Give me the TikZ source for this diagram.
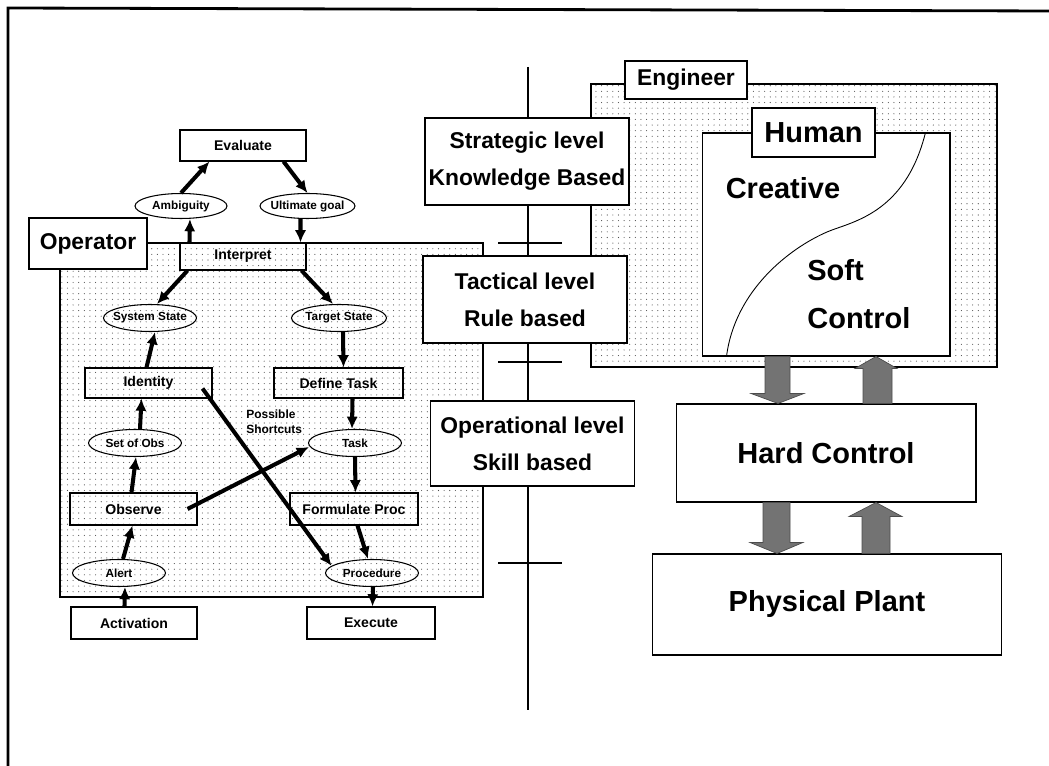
\documentclass[tikz,border=0pt]{standalone}
\usepackage{fontspec}
\setmainfont{Liberation Sans}
\usepackage{tikz}
\usetikzlibrary{calc,shapes,arrows.meta,patterns.meta,positioning}
\tikzset{
    flow/.style={draw,line width=2.3pt,-{Latex[length=7pt,width=6.5pt]}},
    procbox/.style={rectangle,draw,line width=0.6pt,inner sep=1pt,font=\fontsize{8}{9}\selectfont\bfseries},
    stateoval/.style={ellipse,draw,line width=0.6pt,minimum width=1.86cm,minimum height=0.54cm,inner sep=0pt,label={[ovaltext]center:#1}},
    ovaltext/.style={inner sep=0pt,font=\fontsize{6.7}{7}\selectfont\bfseries},
    notetext/.style={inner sep=0pt,align=left,font=\fontsize{6.8}{8.5}\selectfont\bfseries},
    levelbox/.style={rectangle,draw,fill=white,line width=0.6pt,inner sep=1pt,minimum width=4.08cm,minimum height=1.74cm,align=center,font=\fontsize{13}{21}\selectfont\bfseries},
    tagbox/.style={rectangle,draw,fill=white,line width=0.8pt,inner sep=1pt,font=\fontsize{13}{15}\selectfont\bfseries},
    bigbox/.style={rectangle,draw,fill=white,line width=0.6pt,font=\fontsize{16.5}{19}\selectfont\bfseries},
    bigtext/.style={inner sep=0pt,font=\fontsize{16.5}{19}\selectfont\bfseries},
    zone/.style={rectangle,draw,line width=1.4pt,pattern={Dots[distance=3.2pt,radius=0.32pt]},pattern color=black!70},
    blockarrow/.style={draw=black!70,line width=0.4pt,fill=black!55},
    levelaxis/.style={draw,line width=1.3pt},
    outerframe/.style={draw,line width=1.6pt},
}

\begin{document}
\begin{tikzpicture}[x=0.02cm,y=-0.02cm]
    \useasboundingbox (0,0) rectangle (1049,766);
    \path [outerframe] (8,766) -- (8,8) -- (1049,11);

    \node [zone,minimum width=8.46cm,minimum height=7.08cm] (operator) at (271.5,420) {};
    \node [zone,minimum width=8.12cm,minimum height=5.66cm] (engineer) at (794,225.5) {};

    \coordinate (axtop) at (528,67);
    \coordinate (axbot) at (528,710);
    \path [levelaxis] (axtop) -- (axbot);
    \foreach \y in {243,362,563}
        \path [levelaxis] (498,\y) -- (562,\y);

    \node [levelbox] (strategic) at (527,161.5) {Strategic level\\Knowledge Based};
    \node [levelbox] (tactical) at (525,299.5) {Tactical level\\Rule based};
    \node [levelbox,minimum height=1.7cm] (operational) at (532.5,443.5) {Operational level\\Skill based};

    \node [tagbox,minimum width=2.36cm,minimum height=1.02cm] (optag) at (88,243.5) {Operator};
    \node [tagbox,minimum width=2.44cm,minimum height=0.76cm] (engtag) at (686,80) {Engineer};

    \node [procbox,minimum width=2.52cm,minimum height=0.62cm] (evaluate) at (243,145.5) {Evaluate};
    \node [procbox,minimum width=2.52cm,minimum height=0.54cm] (interpret) at (243,256.5) {Interpret};
    \node [procbox,minimum width=2.54cm,minimum height=0.6cm] (identity) at (148.5,383) {Identity};
    \node [procbox,minimum width=2.58cm,minimum height=0.6cm] (definetask) at (338.5,383) {Define Task};
    \node [procbox,minimum width=2.54cm,minimum height=0.64cm] (observe) at (133.5,509) {Observe};
    \node [procbox,minimum width=2.56cm,minimum height=0.64cm] (formulate) at (354,509) {Formulate Proc};
    \node [procbox,minimum width=2.52cm,minimum height=0.64cm] (activation) at (134,623) {Activation};
    \node [procbox,minimum width=2.56cm,minimum height=0.64cm] (execute) at (371,623) {Execute};

    \node [stateoval=Ambiguity,minimum width=1.84cm,minimum height=0.5cm] (ambiguity) at (181,206) {};
    \node [stateoval=Ultimate goal,minimum width=1.9cm,minimum height=0.5cm] (goal) at (307.5,206) {};
    \node [stateoval=System State] (sysstate) at (150,318) {};
    \node [stateoval=Target State,minimum width=1.9cm] (target) at (339,318) {};
    \node [stateoval=Set of Obs] (obs) at (135,443) {};
    \node [stateoval=Task] (task) at (355,443) {};
    \node [stateoval=Alert] (alert) at (119,573) {};
    \node [stateoval=Procedure] (procedure) at (372,573) {};

    \path [flow] (ambiguity.north) -- ($(evaluate.south west)+(30,0)$);
    \path [flow] ($(evaluate.south east)+(-23,0)$) -- (goal.north);
    \path [flow] ($(interpret.north west)+(10,0)$) -- ($(ambiguity.south)+(9,0)$);
    \path [flow] ($(goal.south)+(-7,0)$) -- ($(interpret.north east)+(-6,0)$);
    \path [flow] ($(interpret.south west)+(8,0)$) -- ($(sysstate.north)+(7,0)$);
    \path [flow] ($(interpret.south east)+(-5,0)$) -- ($(target.north)+(-6,0)$);
    \path [flow] ($(identity.north west)+(62,0)$) -- ($(sysstate.south)+(5,0)$);
    \path [flow] ($(target.south)+(4,0)$) -- ($(definetask.north)+(5,0)$);
    \path [flow] ($(definetask.south)+(14,0)$) -- ($(task.north)+(-3,0)$);
    \path [flow] ($(obs.north)+(5,0)$) -- ($(identity.south west)+(57,0)$);
    \path [flow] ($(observe.north west)+(62,0)$) -- ($(obs.south)+(1,0)$);
    \path [flow] ($(alert.north)+(4,0)$) -- ($(observe.south west)+(63,0)$);
    \path [flow] ($(activation.north west)+(54,0)$) -- ($(alert.south)+(6,0)$);
    \path [flow] (task.south) -- ($(formulate.north east)+(-63,0)$);
    \path [flow] ($(formulate.south west)+(68,0)$) -- ($(procedure.north)+(-4,0)$);
    \path [flow] ($(procedure.south)+(1,0)$) -- ($(execute.north west)+(66,0)$);
    \path [flow] ($(observe.east)+(-10,0)$) -- ($(task.west)+(1,4)$);
    \path [flow] ($(identity.south east)+(-10,-10)$) -- (procedure.170);

    \node [notetext,anchor=west] (shortcuts) at (246,422) {Possible\\Shortcuts};

    \node [bigbox,minimum width=4.96cm,minimum height=4.46cm] (human) at (826,244.5) {};
    \draw [line width=0.5pt] ($(human.north east)+(-25,0)$) .. controls (905,215) and (850,222) .. (827,232)
        .. controls (790,248) and (735,290) .. ($(human.south west)+(25,0)$);
    \node [tagbox,font=\fontsize{16.5}{19}\selectfont\bfseries,minimum width=2.46cm,minimum height=0.98cm] (humantag) at (813.5,132.5) {Human};
    \node [bigtext] (creative) at (783,188) {Creative};
    \node [bigtext,anchor=west] (soft) at (807,270) {Soft};
    \node [bigtext,anchor=west] (control) at (807,318) {Control};

    \node [bigbox,minimum width=6cm,minimum height=1.96cm] (hard) at (826,453) {Hard Control};
    \node [bigbox,minimum width=7cm,minimum height=2.02cm] (plant) at (827,604.5) {Physical Plant};

    \path [blockarrow] ($(human.south)+(-61,0)$) -- ($(hard.north)+(-61,-10)$) -- ($(hard.north)+(-75,-10)$) -- ($(hard.north)+(-48,0)$)
        -- ($(hard.north)+(-22,-10)$) -- ($(hard.north)+(-36,-10)$) -- ($(human.south)+(-36,0)$) -- cycle;
    \path [blockarrow] ($(hard.north)+(37,0)$) -- ($(human.south)+(37,12)$) -- ($(human.south)+(29,12)$) -- ($(human.south)+(50,0)$)
        -- ($(human.south)+(71,12)$) -- ($(human.south)+(66,12)$) -- ($(hard.north)+(66,0)$) -- cycle;
    \path [blockarrow] ($(hard.south)+(-63,0)$) -- ($(plant.north)+(-64,-11)$) -- ($(plant.north)+(-77,-11)$) -- ($(plant.north)+(-50,0)$)
        -- ($(plant.north)+(-24,-11)$) -- ($(plant.north)+(-37,-11)$) -- ($(hard.south)+(-36,0)$) -- cycle;
    \path [blockarrow] ($(plant.north)+(35,0)$) -- ($(hard.south)+(36,14)$) -- ($(hard.south)+(23,14)$) -- ($(hard.south)+(50,0)$)
        -- ($(hard.south)+(76,14)$) -- ($(hard.south)+(64,14)$) -- ($(plant.north)+(63,0)$) -- cycle;
\end{tikzpicture}
\end{document}
